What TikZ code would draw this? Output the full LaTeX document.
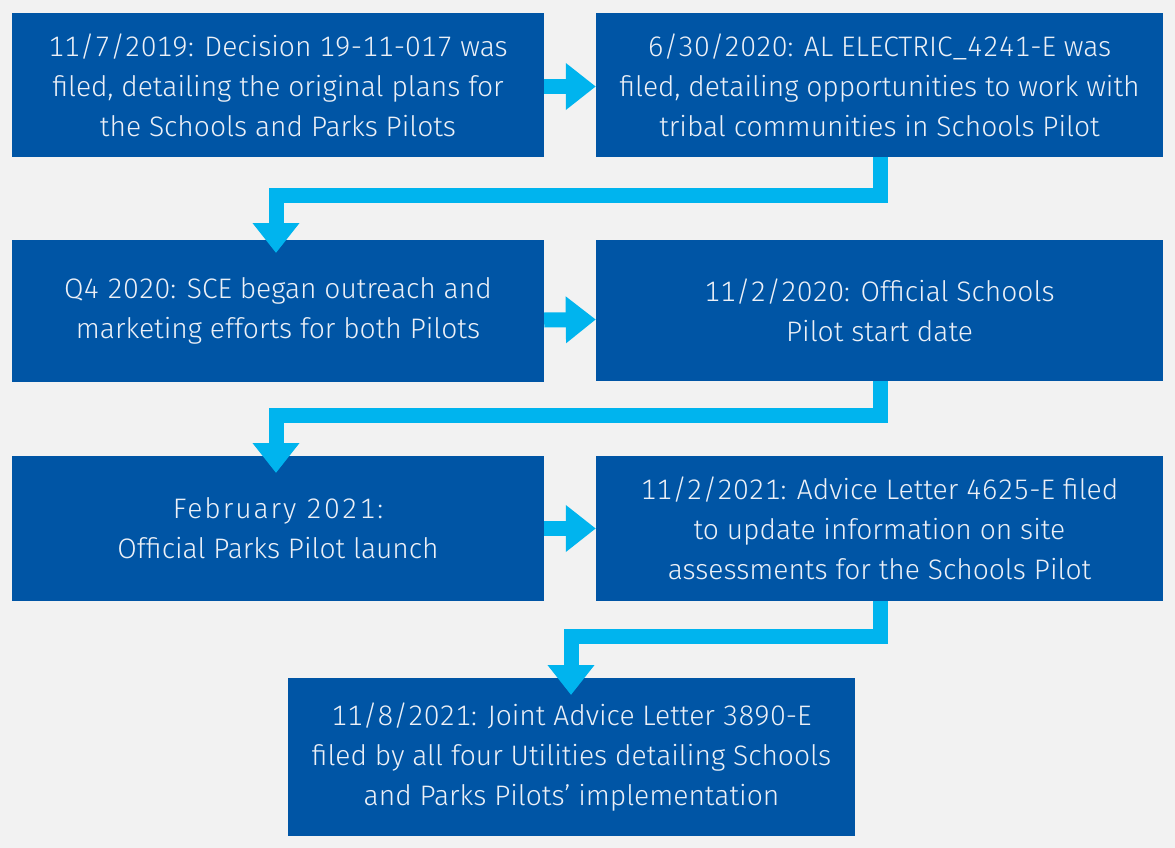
\documentclass[tikz,border=0pt]{standalone}
\usepackage{fontspec}
\setmainfont{Fira Sans}[UprightFont={* Light}, Numbers={Lining,Monospaced}]
\usetikzlibrary{arrows.meta}
\definecolor{boxblue}{RGB}{0,85,165}
\definecolor{arrcyan}{RGB}{0,180,238}
\definecolor{bggray}{RGB}{242,242,242}
\definecolor{txt}{RGB}{236,240,247}
\tikzset{
  box/.style={fill=boxblue, draw=none, text=txt, align=center, inner sep=0pt,
    font=\fontsize{28.2}{40}\selectfont},
  arr/.style={draw=arrcyan, line width=15pt, line join=miter,
    -{Triangle[width=45pt,length=30pt]}},
}
\begin{document}
\begin{tikzpicture}[x=1pt,y=-1pt]
\fill[bggray] (0,0) rectangle (1175,848);
\useasboundingbox (0,0) rectangle (1175,848);

\node[box, minimum width=532pt, minimum height=144pt] (b1) at (278,85)
  {11/7/2019: Decision 19-11-017 was\\filed, detailing the original plans for\\the Schools and Parks Pilots};
\node[box, minimum width=567pt, minimum height=144pt] (b2) at (879.5,85)
  {6/30/2020: AL ELECTRIC\_4241-E was\\filed, detailing opportunities to work with\\tribal communities in Schools Pilot};
\node[box, minimum width=532pt, minimum height=142pt] (b3) at (278,311)
  {Q4 2020: SCE began outreach and\\marketing efforts for both Pilots};
\node[box, minimum width=567pt, minimum height=141pt] (b4) at (879.5,310.5)
  {11/2/2020: Official Schools\\Pilot start date};
\node[box, minimum width=532pt, minimum height=145pt] (b5) at (278,528.5)
  {{\addfontfeature{LetterSpace=7}February 2021:}\\Official Parks Pilot launch};
\node[box, minimum width=567pt, minimum height=145pt] (b6) at (879.5,528.5)
  {11/2/2021: Advice Letter 4625-E filed\\to update information on site\\assessments for the Schools Pilot};
\node[box, minimum width=567pt, minimum height=158pt] (b7) at (571.5,757)
  {11/8/2021: Joint Advice Letter 3890-E\\filed by all four Utilities detailing Schools\\and Parks Pilots’ implementation};

\coordinate (t1) at (276,253);
\coordinate (t2) at (276,473);
\coordinate (t3) at (571,695);

\draw[arr] ([yshift=-1.5pt]b1.east) -- ([yshift=-1.5pt]b2.west);
\draw[arr] ([yshift=-9pt]b3.east) -- ([yshift=-9pt]b4.west);
\draw[arr] (b5.east) -- (b6.west);
\draw[arr] ([xshift=1pt]b2.south) |- (276,195.5) -- (t1);
\draw[arr] ([xshift=1pt]b4.south) |- (276,415.5) -- (t2);
\draw[arr] ([xshift=1pt]b6.south) |- (571,636.5) -- (t3);
\end{tikzpicture}
\end{document}
